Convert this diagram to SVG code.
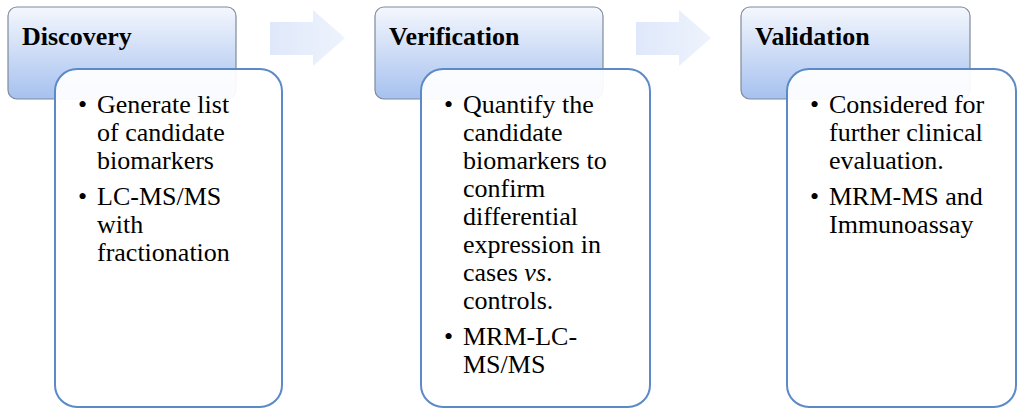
<svg xmlns="http://www.w3.org/2000/svg" width="1024" height="415" viewBox="0 0 1024 415">
<defs>
<linearGradient id="hg" x1="0" y1="0" x2="0" y2="1"><stop offset="0" stop-color="#f4f7fd"/><stop offset="1" stop-color="#a6c1ef"/></linearGradient>
<linearGradient id="ag" x1="0" y1="0" x2="1" y2="0"><stop offset="0" stop-color="#dfe8fa"/><stop offset="1" stop-color="#eef3fc"/></linearGradient>
</defs>
<style>
.h{fill:url(#hg);stroke:#7f8a9a;stroke-width:1.2}
.b{fill:#fff;fill-opacity:0.93;stroke:#5b8ac7;stroke-width:2}
.t{font-family:"Liberation Serif",serif;font-size:26px;fill:#000}
.tt{font-family:"Liberation Serif",serif;font-size:26px;font-weight:bold;fill:#000}
.ar{fill:url(#ag)}
</style>
<g id="connectors">
<path class="ar" d="M270,22 H313 V10 L345,38 L313,66 V55 H270 Z"/>
<path class="ar" d="M636,22 H679 V10 L711,38 L679,66 V55 H636 Z"/>
</g>
<g id="discovery">
<rect class="h" x="8" y="7" width="228" height="92" rx="9"/>
<text class="tt" x="22" y="45">Discovery</text>
<rect class="b" x="55" y="69" width="227" height="338" rx="22"/>
<g class="t"><text x="78" y="113">•</text><text x="97" y="113">Generate list</text><text x="97" y="141">of candidate</text><text x="97" y="169">biomarkers</text>
<text x="78" y="205">•</text><text x="97" y="205">LC-MS/MS</text><text x="97" y="233">with</text><text x="97" y="261">fractionation</text></g>
</g>
<g id="verification">
<rect class="h" x="375" y="7" width="228" height="92" rx="9"/>
<text class="tt" x="389" y="45">Verification</text>
<rect class="b" x="421" y="69" width="229" height="338" rx="22"/>
<g class="t"><text x="444" y="113">•</text><text x="463" y="113">Quantify the</text><text x="463" y="141">candidate</text><text x="463" y="169">biomarkers to</text><text x="463" y="197">confirm</text><text x="463" y="225">differential</text><text x="463" y="253">expression in</text><text x="463" y="281">cases <tspan font-style="italic">vs</tspan>.</text><text x="463" y="309">controls.</text>
<text x="444" y="345">•</text><text x="463" y="345">MRM-LC-</text><text x="463" y="373">MS/MS</text></g>
</g>
<g id="validation">
<rect class="h" x="741" y="7" width="229" height="92" rx="9"/>
<text class="tt" x="755" y="45">Validation</text>
<rect class="b" x="787" y="69" width="229" height="338" rx="22"/>
<g class="t"><text x="810" y="113">•</text><text x="829" y="113">Considered for</text><text x="829" y="141">further clinical</text><text x="829" y="169">evaluation.</text>
<text x="810" y="205">•</text><text x="829" y="205">MRM-MS and</text><text x="829" y="233">Immunoassay</text></g>
</g>
</svg>
